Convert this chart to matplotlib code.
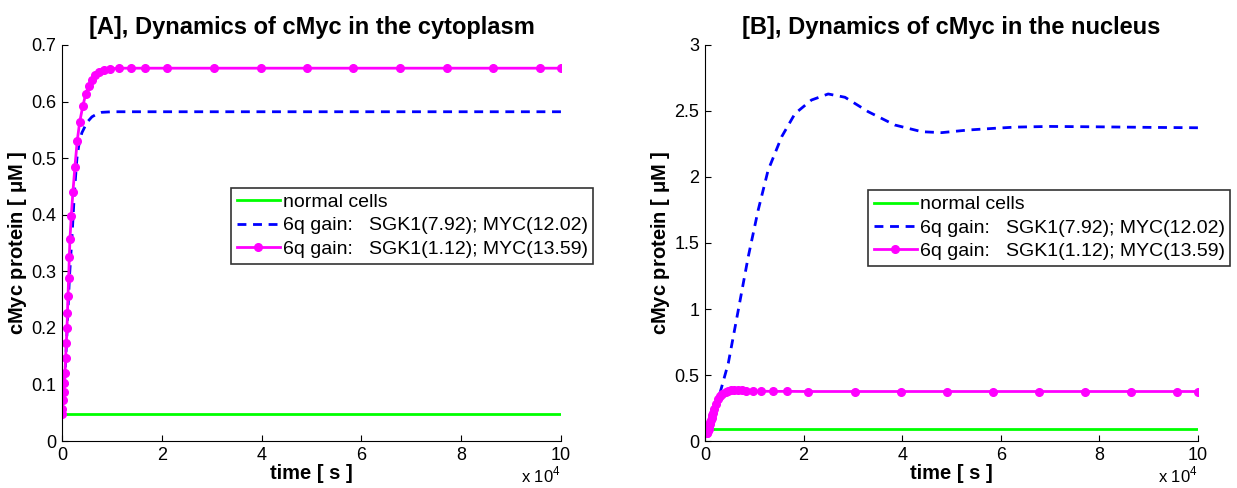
import matplotlib
matplotlib.use("Agg")
import matplotlib.pyplot as plt
from matplotlib.ticker import FuncFormatter
from matplotlib.transforms import blended_transform_factory

plt.rcParams['font.family'] = ['Liberation Sans', 'DejaVu Sans']

# ---------------- data ----------------
labels = ["normal cells",
          "6q gain:   SGK1(7.92); MYC(12.02)",
          "6q gain:   SGK1(1.12); MYC(13.59)"]
titles = ["[A], Dynamics of cMyc in the cytoplasm",
          "[B], Dynamics of cMyc in the nucleus"]

t_span = [0, 100000]
normal_cyto = [0.047, 0.047]
normal_nuc = [0.09, 0.09]

# magenta series (solver time points shared by both compartments)
t_mag = [0, 70, 200, 330, 470, 600, 730, 870, 1000, 1100, 1200, 1340, 1470, 1600,
         1870, 2200, 2600, 3050, 3550, 4200, 4750, 5350, 5950, 6700, 7500, 8400,
         9700, 11400, 13800, 16600, 21000, 30500, 39800, 49100, 58400, 67700,
         77100, 86400, 95700, 100000]
mag_cyto = [0.048, 0.056, 0.072, 0.087, 0.102, 0.120, 0.146, 0.173, 0.199, 0.226,
            0.256, 0.288, 0.325, 0.357, 0.398, 0.441, 0.485, 0.530, 0.564, 0.593,
            0.613, 0.628, 0.638, 0.647, 0.652, 0.655, 0.658, 0.659, 0.659, 0.659,
            0.659, 0.659, 0.659, 0.659, 0.659, 0.659, 0.659, 0.659, 0.659, 0.659]
mag_nuc = [0.095, 0.078, 0.062, 0.058, 0.062, 0.075, 0.092, 0.110, 0.128, 0.143,
           0.158, 0.176, 0.194, 0.212, 0.245, 0.280, 0.315, 0.340, 0.358, 0.371,
           0.379, 0.384, 0.386, 0.386, 0.384, 0.381, 0.378, 0.377, 0.376, 0.376,
           0.375, 0.375, 0.375, 0.375, 0.375, 0.375, 0.375, 0.375, 0.375, 0.375]

# blue dashed series
t_blue_cyto = [0, 500, 1000, 1500, 2000, 2500, 3000, 3500, 4000, 5000, 6000, 7000,
               8000, 10000, 15000, 100000]
blue_cyto = [0.048, 0.10, 0.19, 0.29, 0.36, 0.44, 0.50, 0.53, 0.545, 0.563, 0.573,
             0.578, 0.581, 0.582, 0.582, 0.582]

t_blue_nuc = [0, 300, 700, 1200, 1700, 2370, 3000, 4730, 6760, 8780, 10800, 12800,
              15560, 18260, 21600, 25000, 28400, 33100, 38500, 44000, 48000, 53400,
              58800, 63000, 70000, 80000, 90000, 100000]
blue_nuc = [0.095, 0.062, 0.075, 0.13, 0.19, 0.273, 0.357, 0.589, 0.992, 1.396, 1.75,
            2.05, 2.305, 2.48, 2.583, 2.629, 2.604, 2.495, 2.394, 2.343, 2.336, 2.356,
            2.369, 2.378, 2.383, 2.380, 2.376, 2.373]

yticks_cyto = [0, 0.1, 0.2, 0.3, 0.4, 0.5, 0.6, 0.7]
yticks_nuc = [0, 0.5, 1, 1.5, 2, 2.5, 3]
xticks = [0, 20000, 40000, 60000, 80000, 100000]

# ---------------- figure ----------------
fig = plt.figure(figsize=(12.37, 4.88), dpi=100)
ax1 = fig.add_axes([0.0501, 0.0963, 0.4034, 0.8115])
ax2 = fig.add_axes([0.5699, 0.0963, 0.3985, 0.8115])

panels = [
    (ax1, normal_cyto, t_blue_cyto, blue_cyto, mag_cyto, yticks_cyto, 0.7, titles[0],
     (0.339, 0.640)),
    (ax2, normal_nuc, t_blue_nuc, blue_nuc, mag_nuc, yticks_nuc, 3.0, titles[1],
     (0.331, 0.634)),
]

for ax, norm, tb, vb, vm, yt, ymax, title, legpos in panels:
    ax.plot(t_span, norm, color='#00FF00', lw=2.0, label=labels[0])
    ax.plot(tb, vb, color='#0000FF', lw=2.0, ls=(0, (3.2, 2.4)), label=labels[1])
    ax.plot(t_mag, vm, color='#FF00FF', lw=2.0, marker='o', ms=5.5,
            label=labels[2])
    ax.set_xlim(0, 100000)
    ax.set_ylim(0, ymax)
    ax.set_xticks(xticks)
    ax.xaxis.set_major_formatter(FuncFormatter(lambda v, p: f"{v/1e4:g}"))
    ax.set_yticks(yt)
    ax.yaxis.set_major_formatter(FuncFormatter(lambda v, p: f"{v:g}"))
    ax.tick_params(direction='in', length=4, labelsize=13, pad=4)
    ax.spines['top'].set_visible(False)
    ax.spines['right'].set_visible(False)
    ax.set_title(title, fontsize=17, fontweight='bold', pad=8)
    ax.set_xlabel("time [ s ]", fontsize=14.5, fontweight='bold', labelpad=0)
    ax.set_ylabel(r"cMyc protein [ $\mathregular{\mu}$M ]", fontsize=14.5,
                  fontweight='bold', labelpad=2)
    tr = blended_transform_factory(ax.transAxes, fig.transFigure)
    ax.text(1.0, 0.006, r"x 10$^{\mathregular{4}}$", transform=tr,
            fontsize=12, ha='right', va='bottom')
    leg = ax.legend(loc='upper left', bbox_to_anchor=legpos, fontsize=14,
                    frameon=True, fancybox=False, edgecolor='black',
                    handlelength=2.2, handletextpad=0.15, borderpad=0.3,
                    labelspacing=0.3, borderaxespad=0)
    leg.get_frame().set_linewidth(1.2)

fig.savefig("out.png", dpi=100)
